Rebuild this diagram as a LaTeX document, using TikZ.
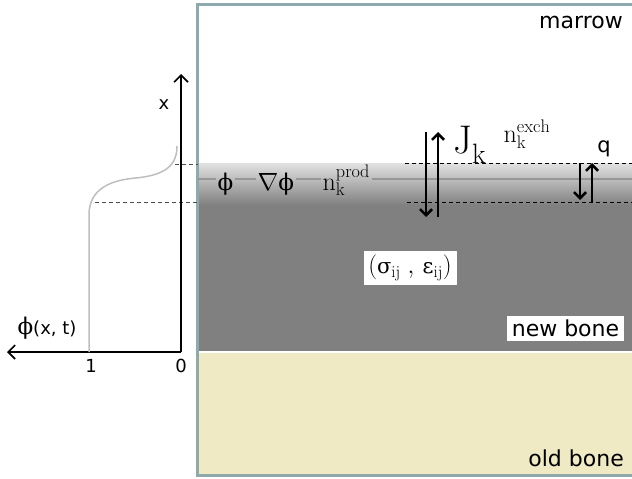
\documentclass[tikz,border=0pt]{standalone}
\usepackage{fontspec}
\newfontfamily\labelfont{DejaVu Sans}
\newfontfamily\greekfont{DejaVu Serif}
\usetikzlibrary{arrows.meta, positioning}

\definecolor{framecol}{RGB}{143,170,172}
\definecolor{newbone}{RGB}{128,128,128}
\definecolor{oldbone}{RGB}{239,233,196}
\definecolor{midline}{RGB}{150,150,150}
\definecolor{profile}{RGB}{190,190,190}

\begin{document}
\begin{tikzpicture}[x=1pt, y=-1pt,
  layer/.style={font=\labelfont\fontsize{22}{24}\selectfont, inner sep=0pt},
  axlabel/.style={font=\labelfont\fontsize{18}{20}\selectfont, inner sep=0pt},
  symb/.style={font=\fontsize{26}{28}\selectfont, inner sep=1.5pt, anchor=base west},
  flux/.style={line width=2.6pt, -{Straight Barb[length=6pt,width=12pt]}},
  axis/.style={line width=1.6pt, -{Straight Barb[length=7pt,width=14pt]}},
  guide/.style={dash pattern=on 4pt off 3pt, line width=0.9pt}]
  \useasboundingbox (0,0) rectangle (632,479);

  % layers
  \fill[newbone] (198,204) rectangle (645,351);
  \shade[top color={rgb,255:red,226;green,226;blue,226}, bottom color=newbone] (198,163) rectangle (645,205);
  \fill[white] (198,351) rectangle (645,353);
  \fill[oldbone] (198,353) rectangle (645,474);
  \draw[framecol, line width=3pt] (197,4) rectangle (650,475);

  \node[layer, anchor=base east] (marrow) at (623,28) {marrow};
  \node[layer, fill=white, minimum width=117pt, minimum height=25pt] (new) at (565.5,328.5) {new bone};
  \node[layer, anchor=base east] (old) at (624,466) {old bone};
  \node[font=\fontsize{24}{26}\selectfont, fill=white, minimum width=93pt, minimum height=34pt, inner sep=0pt] (stress) at (410,268)
    {$(\hbox{\greekfont\fontsize{21}{24}\selectfont σ}_{\mathrm{ij}}\;,\,\hbox{\greekfont\fontsize{21}{24}\selectfont ε}_{\mathrm{ij}})$};

  % interface
  \node[symb] (phi) at (216,190) {\greekfont\fontsize{23}{26}\selectfont ϕ};
  \node[symb] (grad) at (256,190) {$\nabla$\greekfont\fontsize{23}{26}\selectfont ϕ};
  \node[symb] (prod) at (321,190) {$\mathrm{n}_{\mathrm{k}}^{\mathrm{prod}}$};
  \coordinate (m0) at (198,179);
  \coordinate (m1) at (632,179);
  \draw[midline, line width=2.5pt] (m0) -- (m0 -| phi.west);
  \draw[midline, line width=2.5pt] (m0 -| phi.east) -- (m0 -| grad.west);
  \draw[midline, line width=2.5pt] (m0 -| grad.east) -- (m0 -| prod.west);
  \draw[midline, line width=2.5pt] (m0 -| prod.east) -- (m1);

  \draw[guide] (405,163.5) -- (632,163.5);
  \draw[guide] (407,202) -- (632,202);
  \draw[guide, black!70] (175,164) -- (198,164);
  \draw[guide, black!70] (95,202) -- (198,202);

  % fluxes
  \coordinate (jt) at (426,132);
  \coordinate (jb) at (438,217);
  \draw[flux] (jt) -- (jt |- jb);
  \draw[flux] (jb) -- (jb |- jt);
  \node[symb, font=\fontsize{40}{42}\selectfont, inner sep=0pt] (J) at (453,153) {$\mathrm{J}_{\mathrm{k}}$};
  \node[symb] (exch) at (502,142) {$\mathrm{n}_{\mathrm{k}}^{\mathrm{exch}}$};
  \coordinate (qt) at (580,163);
  \coordinate (qb) at (592,202);
  \draw[flux] (qt) -- (qt |- 0,200);
  \draw[flux] (qb) -- (qb |- qt);
  \node[axlabel, font=\labelfont\fontsize{21}{22}\selectfont] (q) at (604,149) {q};

  % profile
  \coordinate (o) at (181,352);
  \coordinate (xtop) at (181,74);
  \coordinate (ptip) at (7,352);
  \draw[axis] (o) -- (xtop);
  \draw[axis] (o) -- (ptip);
  \node[axlabel] (xl) at (164,105) {x};
  \node[axlabel] (zero) at (181,366) {0};
  \node[axlabel] (one) at (91,366) {1};
  \node[inner sep=0pt] (phixt) at (47,328) {\greekfont\fontsize{23}{26}\selectfont ϕ\labelfont\fontsize{18}{20}\selectfont(x, t)};
  \draw[profile, line width=1.5pt] (89,352) -- (89,215)
    .. controls (89,188) and (112,180) .. (136,178)
    .. controls (166,175) and (177,165) .. (177,146);
\end{tikzpicture}
\end{document}
